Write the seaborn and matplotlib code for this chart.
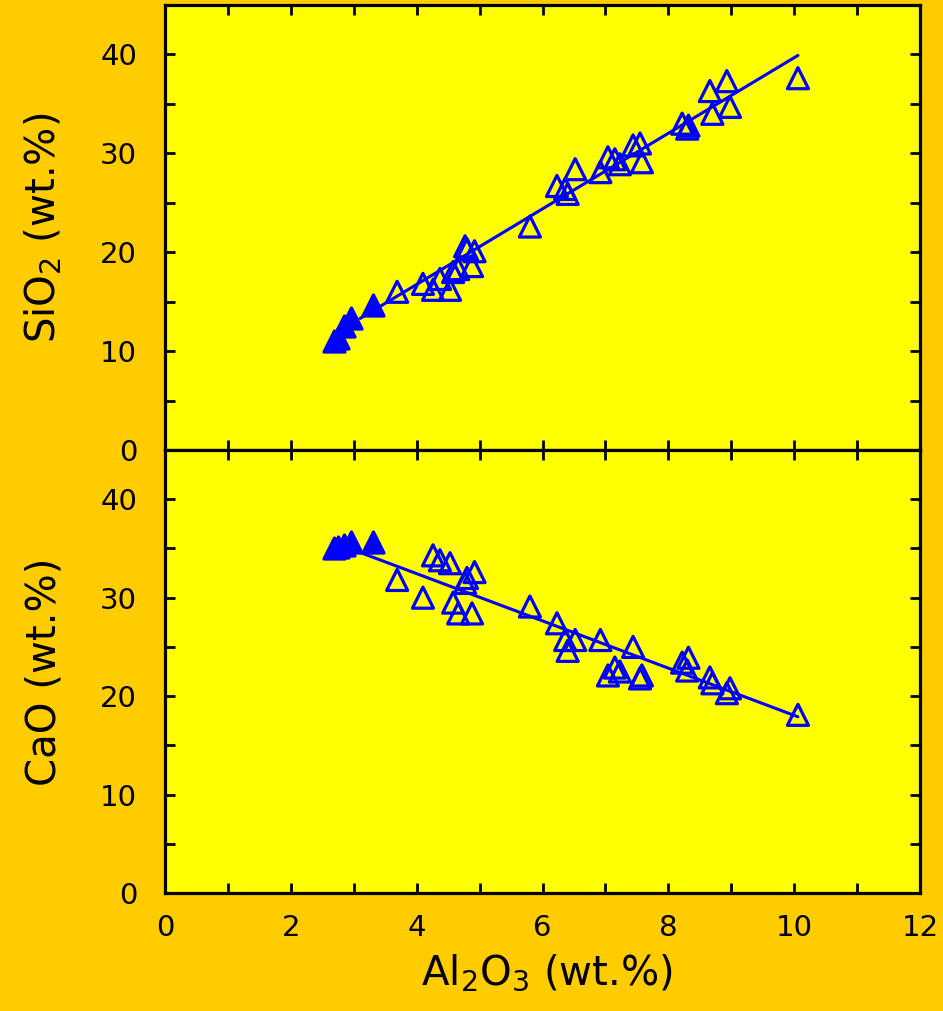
import numpy as np
import pandas as pd
import matplotlib
matplotlib.use("Agg")
import matplotlib.pyplot as plt
import seaborn as sns
from matplotlib.ticker import MultipleLocator

# ---- data ----
al_filled = [2.68, 2.75, 2.85, 2.95, 3.30]
si_filled = [11.0, 11.3, 12.5, 13.3, 14.7]
ca_filled = [35.0, 35.1, 35.4, 35.7, 35.7]

al_open = [3.69, 4.10, 4.26, 4.37, 4.53, 4.58, 4.66, 4.77, 4.80, 4.88, 4.92,
           5.80, 6.23, 6.36, 6.40, 6.52, 6.92, 7.04, 7.15, 7.23, 7.44, 7.55,
           7.58, 8.22, 8.30, 8.32, 8.66, 8.70, 8.93, 8.98, 10.06]
si_open = [16.0, 16.8, 16.2, 17.3, 16.2, 18.0, 18.3, 20.6, 20.3, 18.6, 20.1,
           22.6, 26.7, 26.4, 25.9, 28.4, 28.1, 29.6, 29.4, 28.9, 30.8, 31.0,
           29.1, 33.0, 32.5, 32.8, 36.3, 34.0, 37.3, 34.7, 37.6]
ca_open = [31.8, 30.0, 34.3, 33.8, 33.5, 29.5, 28.4, 31.5, 32.0, 28.4, 32.6,
           29.1, 27.4, 25.7, 24.6, 25.7, 25.7, 22.1, 22.9, 22.5, 25.0, 21.8,
           22.1, 23.4, 22.6, 23.9, 21.9, 21.3, 20.3, 20.8, 18.1]

fit_al = [3.1, 10.06]
fit_si = [13.3, 39.9]
fit_ca = [34.6, 17.9]

x_ticks = [0, 2, 4, 6, 8, 10, 12]
y_ticks = [0, 10, 20, 30, 40]

df_f = pd.DataFrame({"Al": al_filled, "Si": si_filled, "Ca": ca_filled})
df_o = pd.DataFrame({"Al": al_open, "Si": si_open, "Ca": ca_open})
df_fit = pd.DataFrame({"Al": fit_al, "Si": fit_si, "Ca": fit_ca})

sns.set_style("ticks")
plt.rcParams["font.family"] = ["DejaVu Sans"]
plt.rcParams["mathtext.fontset"] = "dejavusans"

W, H = 943, 1011
fig = plt.figure(figsize=(W / 100, H / 100), dpi=100, facecolor="#FFCC00")

L, R = 165 / W, 920 / W
ax1 = fig.add_axes([L, 1 - 450 / H, R - L, 445 / H])
ax2 = fig.add_axes([L, 1 - 893 / H, R - L, 443 / H])

blue = "#0000FF"
for ax, col in ((ax1, "Si"), (ax2, "Ca")):
    ax.set_facecolor("#FFFF00")
    sns.lineplot(data=df_fit, x="Al", y=col, ax=ax, color=blue, lw=2.2)
    sns.scatterplot(data=df_o, x="Al", y=col, ax=ax, marker="^", s=230,
                    facecolors="none", edgecolor=blue, linewidth=2.3, zorder=3)
    sns.scatterplot(data=df_f, x="Al", y=col, ax=ax, marker="^", s=230,
                    color=blue, edgecolor=blue, linewidth=2.3, zorder=3)
    ax.set_xlim(0, 12)
    ax.set_ylim(0, 45)
    ax.set_xticks(x_ticks)
    ax.set_yticks(y_ticks)
    ax.xaxis.set_minor_locator(MultipleLocator(1))
    ax.yaxis.set_minor_locator(MultipleLocator(5))
    for which in ("major", "minor"):
        ax.tick_params(which=which, direction="in", length=7, width=2,
                       top=True, right=True, bottom=True, left=True, color="black")
    ax.tick_params(axis="y", labelsize=21, pad=20, labelcolor="black")
    ax.tick_params(axis="x", labelsize=21, pad=15, labelcolor="black")
    for s in ax.spines.values():
        s.set_linewidth(2.3)
        s.set_color("black")
        s.set_visible(True)

ax1.tick_params(axis="x", labelbottom=False)
ax1.set_xlabel("")
ax1.set_ylabel("SiO$_2$ (wt.%)", fontsize=29, color="black")
ax2.set_ylabel("CaO (wt.%)", fontsize=29, color="black")
ax2.set_xlabel("Al$_2$O$_3$ (wt.%)", fontsize=29, color="black")
ax1.yaxis.set_label_coords(-0.133, 0.5)
ax2.yaxis.set_label_coords(-0.133, 0.5)
ax2.xaxis.set_label_coords(0.506, -0.135)

fig.savefig("out.png", dpi=100, facecolor=fig.get_facecolor())
